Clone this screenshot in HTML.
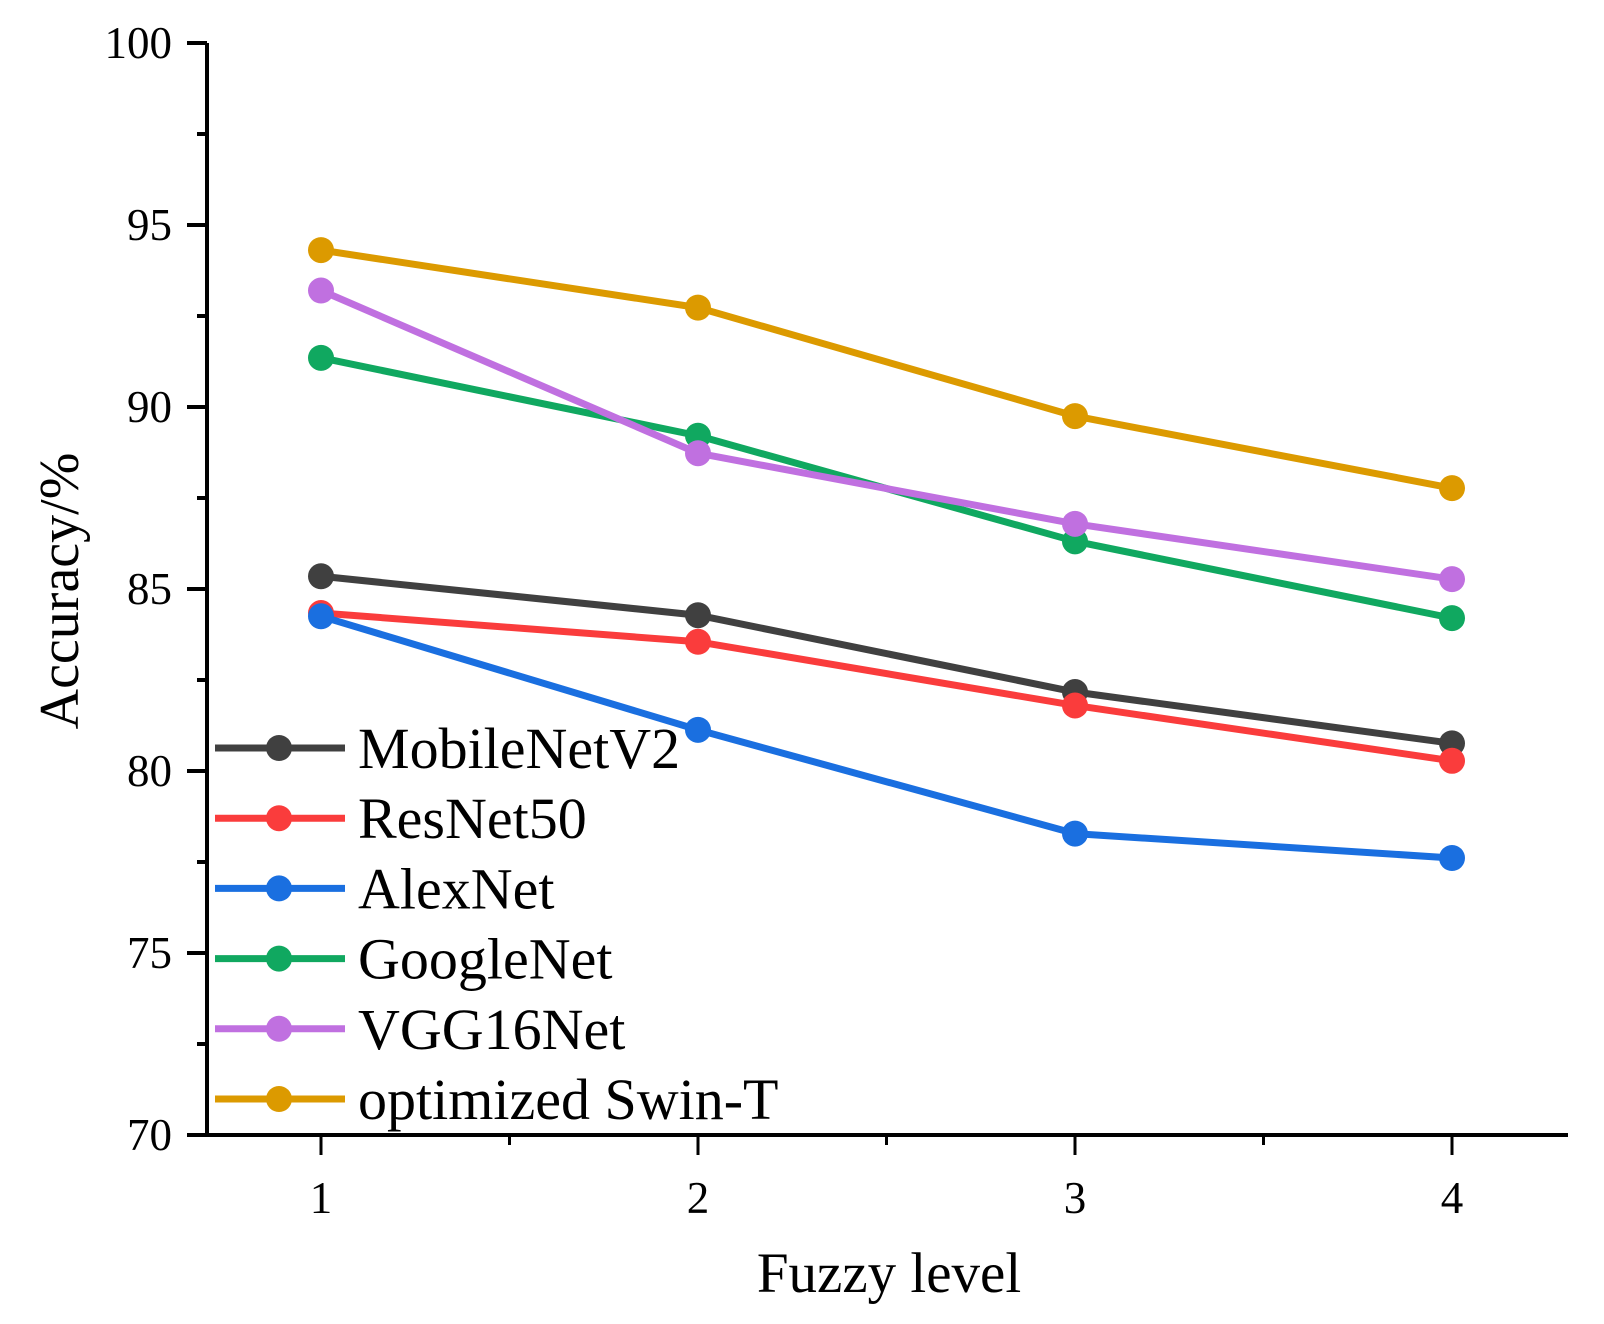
<!DOCTYPE html>
<html><head><meta charset="utf-8"><style>body{margin:0;background:#fff}svg{display:block}text{font-family:"Liberation Serif",serif;fill:#000}</style></head>
<body>
<svg id="c" width="1604" height="1324"></svg>
<script>
const categories=[1,2,3,4];
const yTicks=[70,75,80,85,90,95,100];
const seriesNames=["MobileNetV2","ResNet50","AlexNet","GoogleNet","VGG16Net","optimized Swin-T"];
const mobileNet=[85.35,84.28,82.17,80.76];
const resNet=[84.34,83.55,81.8,80.28];
const alexNet=[84.25,81.13,78.28,77.61];
const googleNet=[91.35,89.21,86.31,84.2];
const vggNet=[93.2,88.73,86.79,85.27];
const swinT=[94.31,92.73,89.75,87.77];
const colors=["#404040","#fa3c3c","#1a6fe0","#10a860","#c070e0","#dc9a00"];
const allSeries=[mobileNet,resNet,alexNet,googleNet,vggNet,swinT];
const svg=document.getElementById('c');const NS="http://www.w3.org/2000/svg";
function el(t,a,p){const e=document.createElementNS(NS,t);for(const k in a)e.setAttribute(k,a[k]);(p||svg).appendChild(e);return e;}
const X0=207,Y0=1135,YT=43;
const xs=v=>321+(v-1)*377;
const ys=v=>Y0-(v-70)/30*(Y0-YT);
let e;
e=el('line',{x1:X0,y1:YT,x2:X0,y2:Y0+2,stroke:'#000','stroke-width':4});

e=el('line',{x1:188,y1:Y0,x2:1568,y2:Y0,stroke:'#000','stroke-width':4});

yTicks.forEach((t,i)=>{
 e=el('line',{x1:X0-20,y1:ys(t),x2:X0,y2:ys(t),stroke:'#000','stroke-width':4});
 
 if(i<yTicks.length-1){e=el('line',{x1:X0-10,y1:ys(t+2.5),x2:X0,y2:ys(t+2.5),stroke:'#000','stroke-width':4});
 }
 e=el('text',{x:172,y:ys(t)+15,'text-anchor':'end','font-size':45});e.textContent=t;
 
});
categories.forEach((c,i)=>{
 e=el('line',{x1:xs(c),y1:Y0,x2:xs(c),y2:Y0+20,stroke:'#000','stroke-width':3});
 
 e=el('line',{x1:xs(c+0.5),y1:Y0,x2:xs(c+0.5),y2:Y0+10,stroke:'#000','stroke-width':3});
 
 e=el('text',{x:xs(c),y:1213,'text-anchor':'middle','font-size':45});e.textContent=c;
 
});
e=el('text',{x:889,y:1292,'text-anchor':'middle','font-size':57});e.textContent="Fuzzy level";

e=el('text',{x:78,y:591,'text-anchor':'middle','font-size':56,transform:'rotate(-90 78 591)'});e.textContent="Accuracy/%";

allSeries.forEach((s,k)=>{
 const g=el('g',{});
 
 
 e=el('polyline',{points:s.map((v,i)=>xs(categories[i])+','+ys(v)).join(' '),fill:'none',stroke:colors[k],'stroke-width':7,'stroke-linejoin':'round'},g);
 
 s.forEach((v,i)=>{e=el('circle',{cx:xs(categories[i]),cy:ys(v),r:13,fill:colors[k]},g);
 });
});
const leg=el('g',{});

seriesNames.forEach((n,k)=>{
 const y=748+k*70.2;
 const g=el('g',{},leg);
 
 el('line',{x1:215,y1:y,x2:345,y2:y,stroke:colors[k],'stroke-width':7},g);
 el('circle',{cx:279,cy:y,r:13,fill:colors[k]},g);
 e=el('text',{x:358,y:y+20,'font-size':58},g);e.textContent=n;
});
</script>
</body></html>
